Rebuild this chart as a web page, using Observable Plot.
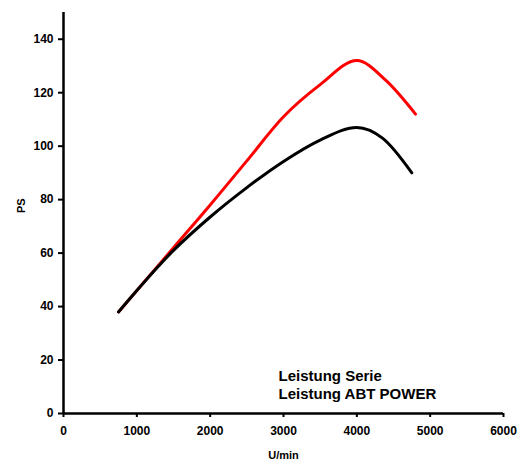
<!DOCTYPE html>
<html>
<head>
<meta charset="utf-8">
<script src="https://cdn.jsdelivr.net/npm/d3@7"></script>
<script src="https://cdn.jsdelivr.net/npm/@observablehq/plot@0.6"></script>
<style>
  html, body { margin: 0; padding: 0; background: #fff; }
  #chart svg { display: block; }
</style>
</head>
<body>
<div id="chart"></div>
<script>
// Engine speed (U/min) and power (PS)
const rpmSerie = [750, 1500, 2000, 2500, 3000, 3500, 4000, 4350, 4750];
const psSerie  = [38, 61, 73.5, 84.5, 94.3, 102.3, 107, 103, 90];
const rpmAbt   = [750, 1500, 2000, 2500, 3000, 3500, 4000, 4400, 4800];
const psAbt    = [38, 62, 78, 94.5, 111, 123, 132, 124.5, 112];
const xTicks = [0, 1000, 2000, 3000, 4000, 5000, 6000];
const yTicks = [0, 20, 40, 60, 80, 100, 120, 140];
const legendLabels = ["Leistung Serie", "Leistung ABT POWER"];

const serie = rpmSerie.map((x, i) => ({x, y: psSerie[i]}));
const abt = rpmAbt.map((x, i) => ({x, y: psAbt[i]}));

const chart = Plot.plot({
  width: 520,
  height: 461,
  marginLeft: 63,
  marginRight: 17,
  marginTop: 12,
  marginBottom: 48,
  style: {fontFamily: "'Liberation Sans', Arial, sans-serif", fontWeight: "bold", fontSize: "12px", color: "#000", background: "#fff"},
  x: {domain: [0, 6000], label: null},
  y: {domain: [0, 150], label: null},
  marks: [
    Plot.axisX({ticks: xTicks, tickSize: 4, tickPadding: 9, tickFormat: d => String(d), strokeWidth: 2, fontSize: 12, label: null}),
    Plot.axisY({ticks: yTicks, tickSize: 5, tickPadding: 5, tickFormat: d => String(d), strokeWidth: 2, fontSize: 12, label: null}),
    Plot.ruleX([0], {stroke: "#000", strokeWidth: 2.5}),
    Plot.ruleY([0], {stroke: "#000", strokeWidth: 2.5}),
    Plot.line(abt, {x: "x", y: "y", stroke: "#ff0000", strokeWidth: 3, curve: "monotone-x"}),
    Plot.line(serie, {x: "x", y: "y", stroke: "#000", strokeWidth: 3, curve: "monotone-x"}),
    Plot.text([legendLabels.join("\n")], {
      frameAnchor: "bottom-left", textAnchor: "start", lineAnchor: "bottom",
      dx: 215, dy: -15, fontSize: 15, lineHeight: 1.2, fill: "#000"
    }),
    Plot.text(["U/min"], {frameAnchor: "bottom", dy: 42, fontSize: 11, lineAnchor: "middle", fill: "#000"}),
    Plot.text(["PS"], {frameAnchor: "left", dx: -42, rotate: -90, fontSize: 11, lineAnchor: "middle", fill: "#000"})
  ]
});
document.getElementById("chart").appendChild(chart);
</script>
</body>
</html>
